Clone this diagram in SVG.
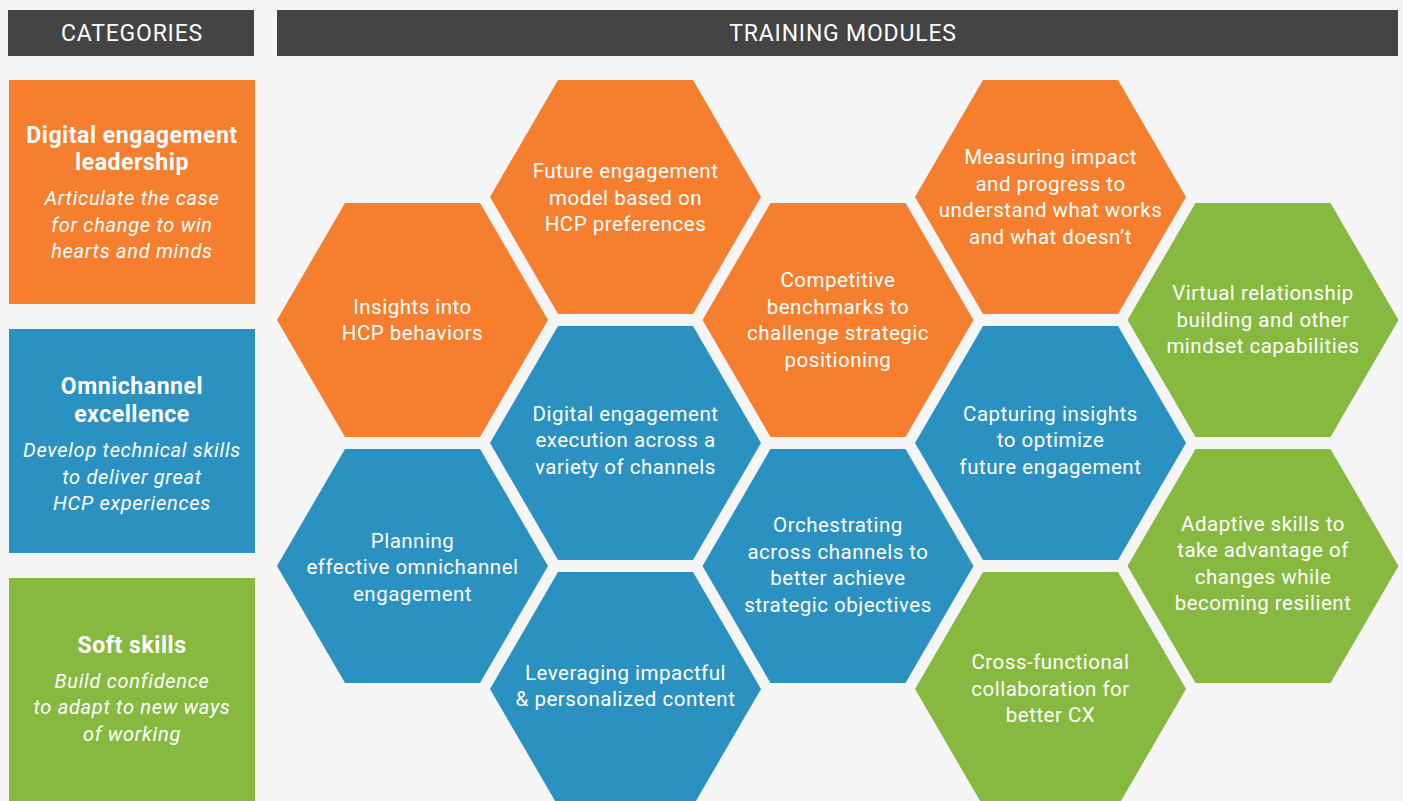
<svg xmlns="http://www.w3.org/2000/svg" width="1403" height="801" viewBox="0 0 1403 801">
<defs>
<style>
.bg{fill:#F5F5F5}
.hdr{fill:#444444}
.hdrt{font-family:Roboto,"Liberation Sans",sans-serif;font-size:23px;letter-spacing:0.8px;fill:#FFFFFF;text-anchor:middle}
.or{fill:#F57F2F}
.bl{fill:#2B91C0}
.gr{fill:#87B940}
.ct{font-family:Roboto,"Liberation Sans",sans-serif;font-size:23px;letter-spacing:0.55px;font-weight:bold;fill:#FFFFFF;text-anchor:middle}
.ci{font-family:Roboto,"Liberation Sans",sans-serif;font-size:20px;letter-spacing:0.7px;font-style:italic;fill:#FFFFFF;text-anchor:middle}
.ht{font-family:Roboto,"Liberation Sans",sans-serif;font-size:20.5px;letter-spacing:0.5px;fill:#FFFFFF;text-anchor:middle}
</style>
<polygon id="hex" points="-135.5,0 -67.5,-117 67.5,-117 135.5,0 67.5,117 -67.5,117"/>
</defs>
<rect class="bg" x="0" y="0" width="1403" height="801"/>

<g id="header-categories">
<rect class="hdr" x="8" y="10" width="246" height="46"/>
<text class="hdrt" x="132" y="41">CATEGORIES</text>
</g>
<g id="header-modules">
<rect class="hdr" x="277" y="10" width="1121" height="46"/>
<text class="hdrt" x="843" y="41">TRAINING MODULES</text>
</g>

<g id="cat-digital">
<rect class="or" x="9" y="80" width="246" height="224"/>
<text class="ct" x="132" y="143">Digital engagement</text>
<text class="ct" x="132" y="170">leadership</text>
<text class="ci" x="132" y="205">Articulate the case</text>
<text class="ci" x="132" y="232">for change to win</text>
<text class="ci" x="132" y="258">hearts and minds</text>
</g>
<g id="cat-omni">
<rect class="bl" x="9" y="329" width="246" height="224"/>
<text class="ct" x="132" y="394">Omnichannel</text>
<text class="ct" x="132" y="422">excellence</text>
<text class="ci" x="132" y="457">Develop technical skills</text>
<text class="ci" x="132" y="484">to deliver great</text>
<text class="ci" x="132" y="510">HCP experiences</text>
</g>
<g id="cat-soft">
<rect class="gr" x="9" y="578" width="246" height="230"/>
<text class="ct" x="132" y="653">Soft skills</text>
<text class="ci" x="132" y="688">Build confidence</text>
<text class="ci" x="132" y="714">to adapt to new ways</text>
<text class="ci" x="132" y="741">of working</text>
</g>

<g id="hex-insights">
<use href="#hex" class="or" x="412.5" y="320"/>
<text class="ht" x="412.5" y="313.5">Insights into</text>
<text class="ht" x="412.5" y="340">HCP behaviors</text>
</g>
<g id="hex-planning">
<use href="#hex" class="bl" x="412.5" y="566"/>
<text class="ht" x="412.5" y="547.5">Planning</text>
<text class="ht" x="412.5" y="574">effective omnichannel</text>
<text class="ht" x="412.5" y="600.5">engagement</text>
</g>
<g id="hex-future">
<use href="#hex" class="or" x="625.5" y="197"/>
<text class="ht" x="625.5" y="178">Future engagement</text>
<text class="ht" x="625.5" y="204.5">model based on</text>
<text class="ht" x="625.5" y="231">HCP preferences</text>
</g>
<g id="hex-execution">
<use href="#hex" class="bl" x="625.5" y="443"/>
<text class="ht" x="625.5" y="420.5">Digital engagement</text>
<text class="ht" x="625.5" y="447">execution across a</text>
<text class="ht" x="625.5" y="473.5">variety of channels</text>
</g>
<g id="hex-leveraging">
<use href="#hex" class="bl" x="625.5" y="689"/>
<text class="ht" x="625.5" y="679.5">Leveraging impactful</text>
<text class="ht" x="625.5" y="706">&amp; personalized content</text>
</g>
<g id="hex-competitive">
<use href="#hex" class="or" x="838" y="320"/>
<text class="ht" x="838" y="287">Competitive</text>
<text class="ht" x="838" y="313.5">benchmarks to</text>
<text class="ht" x="838" y="340">challenge strategic</text>
<text class="ht" x="838" y="366.5">positioning</text>
</g>
<g id="hex-orchestrating">
<use href="#hex" class="bl" x="838" y="566"/>
<text class="ht" x="838" y="532">Orchestrating</text>
<text class="ht" x="838" y="558.5">across channels to</text>
<text class="ht" x="838" y="585">better achieve</text>
<text class="ht" x="838" y="611.5">strategic objectives</text>
</g>
<g id="hex-measuring">
<use href="#hex" class="or" x="1050.5" y="197"/>
<text class="ht" x="1050.5" y="164">Measuring impact</text>
<text class="ht" x="1050.5" y="190.5">and progress to</text>
<text class="ht" x="1050.5" y="217">understand what works</text>
<text class="ht" x="1050.5" y="243.5">and what doesn’t</text>
</g>
<g id="hex-capturing">
<use href="#hex" class="bl" x="1050.5" y="443"/>
<text class="ht" x="1050.5" y="420.5">Capturing insights</text>
<text class="ht" x="1050.5" y="447">to optimize</text>
<text class="ht" x="1050.5" y="473.5">future engagement</text>
</g>
<g id="hex-crossfunctional">
<use href="#hex" class="gr" x="1050.5" y="689"/>
<text class="ht" x="1050.5" y="669">Cross-functional</text>
<text class="ht" x="1050.5" y="695.5">collaboration for</text>
<text class="ht" x="1050.5" y="722">better CX</text>
</g>
<g id="hex-virtual">
<use href="#hex" class="gr" x="1263" y="320"/>
<text class="ht" x="1263" y="300">Virtual relationship</text>
<text class="ht" x="1263" y="326.5">building and other</text>
<text class="ht" x="1263" y="353">mindset capabilities</text>
</g>
<g id="hex-adaptive">
<use href="#hex" class="gr" x="1263" y="566"/>
<text class="ht" x="1263" y="530.5">Adaptive skills to</text>
<text class="ht" x="1263" y="557">take advantage of</text>
<text class="ht" x="1263" y="583.5">changes while</text>
<text class="ht" x="1263" y="610">becoming resilient</text>
</g>
<g id="connectors"></g>
</svg>
